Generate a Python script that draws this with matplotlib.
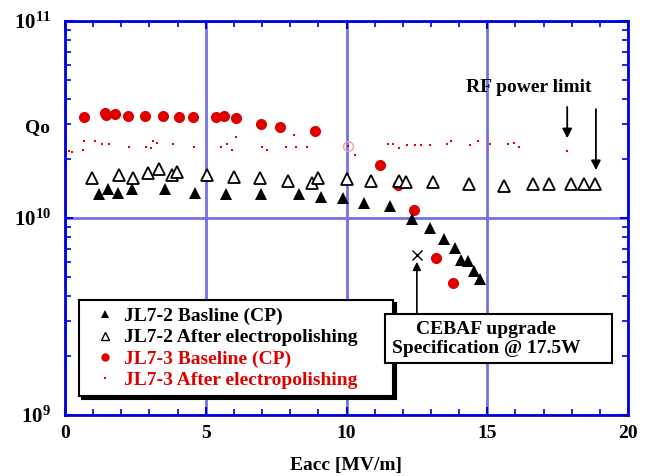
import matplotlib
matplotlib.use("Agg")
import matplotlib.pyplot as plt
from matplotlib.lines import Line2D
from matplotlib.patches import Rectangle
from matplotlib.ticker import FixedLocator, LogLocator, NullFormatter

plt.rcParams["font.family"] = ["Liberation Serif", "DejaVu Serif"]
plt.rcParams["font.weight"] = "bold"
plt.rcParams["mathtext.fontset"] = "custom"
plt.rcParams["mathtext.rm"] = "Liberation Serif:bold"
plt.rcParams["mathtext.bf"] = "Liberation Serif:bold"
plt.rcParams["mathtext.it"] = "Liberation Serif:bold"

# JL7-2 baseline (chemical polishing)
cp2_E = [1.21, 1.51, 1.90, 2.39, 3.56, 4.63, 5.71, 6.98, 8.30, 9.11, 9.89, 10.61,
         11.55, 12.32, 12.95, 13.46, 13.87, 14.07, 14.32, 14.52, 14.75]
cp2_Q = [1.32e10, 1.41e10, 1.34e10, 1.41e10, 1.41e10, 1.34e10, 1.32e10, 1.32e10,
         1.32e10, 1.28e10, 1.26e10, 1.19e10, 1.15e10, 9.9e9, 8.9e9, 7.8e9, 7.05e9,
         6.15e9, 6.08e9, 5.41e9, 4.91e9]

# JL7-2 after electropolishing
ep2_E = [0.95, 1.93, 2.43, 2.96, 3.35, 3.80, 3.99, 5.03, 6.00, 6.93, 7.91, 8.79,
         9.00, 10.02, 10.86, 11.88, 12.10, 13.07, 14.34, 15.60, 16.64, 17.20,
         17.96, 18.43, 18.82]
ep2_Q = [1.60e10, 1.65e10, 1.60e10, 1.70e10, 1.77e10, 1.65e10, 1.71e10, 1.65e10,
         1.62e10, 1.60e10, 1.55e10, 1.50e10, 1.60e10, 1.57e10, 1.55e10, 1.54e10,
         1.52e10, 1.52e10, 1.49e10, 1.46e10, 1.49e10, 1.49e10, 1.49e10, 1.49e10,
         1.49e10]

# JL7-3 baseline (chemical polishing)
cp3_E = [0.68, 1.42, 1.46, 1.78, 2.25, 2.85, 3.49, 4.06, 4.56, 5.38, 5.64, 6.07,
         6.95, 7.63, 8.87, 11.18, 11.82, 12.40, 13.19, 13.77]
cp3_Q = [3.26e10, 3.43e10, 3.32e10, 3.37e10, 3.30e10, 3.30e10, 3.30e10, 3.24e10,
         3.24e10, 3.24e10, 3.30e10, 3.20e10, 2.99e10, 2.90e10, 2.77e10, 1.85e10,
         1.47e10, 1.10e10, 6.24e9, 4.68e9]

# JL7-3 after electropolishing
ep3_E = [0.15, 0.24, 0.63, 0.68, 1.07, 1.33, 1.57, 2.29, 2.88, 3.04, 3.12, 3.28,
         3.82, 4.60, 5.55, 5.74, 5.92, 6.07, 6.99, 7.16, 7.84, 8.14, 8.22, 8.58,
         10.05, 10.29, 11.47, 11.65, 11.88, 12.14, 12.45, 12.63, 12.97, 13.56,
         13.72, 14.39, 14.66, 15.10, 15.73, 15.96, 16.12, 17.83]
ep3_Q = [2.18e10, 2.16e10, 2.22e10, 2.45e10, 2.45e10, 2.37e10, 2.37e10, 2.29e10,
         2.29e10, 2.26e10, 2.45e10, 2.41e10, 2.37e10, 2.29e10, 2.29e10, 2.37e10,
         2.22e10, 2.57e10, 2.29e10, 2.22e10, 2.29e10, 2.65e10, 2.29e10, 2.29e10,
         2.32e10, 2.08e10, 2.37e10, 2.37e10, 2.26e10, 2.34e10, 2.34e10, 2.34e10,
         2.34e10, 2.37e10, 2.45e10, 2.34e10, 2.45e10, 2.37e10, 2.37e10, 2.41e10,
         2.29e10, 2.20e10]

# Highlighted reading on the JL7-3 electropolished curve
ep3_mark_E = [10.05]
ep3_mark_Q = [2.32e10]

# CEBAF upgrade specification point
spec_E = [12.5]
spec_Q = [6.5e9]

# RF power limit arrows: x position, arrow start, arrow tip
rf_E = [17.84, 18.86]
rf_start_Q = [3.66e10, 3.57e10]
rf_tip_Q = [2.54e10, 1.75e10]

x_ticks = [0, 5, 10, 15, 20]
y_ticks = [1e9, 1e10, 1e11]

RED = "#e00000"
BLUE = "#0000dd"
GRID = "#7272e6"

fig = plt.figure(figsize=(6.49, 4.76), dpi=100)
ax = fig.add_axes([65 / 649, 61 / 476, 563 / 649, 394 / 476])
ax.set_yscale("log")
ax.set_xlim(0, 20)
ax.set_ylim(1e9, 1e11)

ax.xaxis.set_major_locator(FixedLocator(x_ticks))
ax.xaxis.set_minor_locator(FixedLocator(range(0, 21)))
ax.yaxis.set_major_locator(FixedLocator(y_ticks))
ax.yaxis.set_minor_locator(LogLocator(base=10, subs=range(2, 10)))
ax.yaxis.set_minor_formatter(NullFormatter())
ax.set_xticklabels([str(t) for t in x_ticks])
ax.set_yticklabels([r"$10^{9}$", r"$10^{10}$", r"$10^{11}$"])

ax.grid(True, which="major", color=GRID, lw=2, zorder=0)
ax.set_axisbelow(True)
for s in ax.spines.values():
    s.set_color(BLUE)
    s.set_linewidth(2)
ax.tick_params(which="both", direction="in", color=BLUE, top=True, right=True,
               labelsize=14)
ax.tick_params(which="major", length=6, width=1.5)
ax.tick_params(which="minor", length=4, width=1.2)
ax.tick_params(axis="x", pad=7)
ax.tick_params(axis="y", pad=10, labelsize=15)

ax.plot(ep3_E, ep3_Q, ls="none", marker="s", ms=1.8, color=RED, mew=0, zorder=3)
ax.plot(ep3_mark_E, ep3_mark_Q, ls="none", marker="o", ms=7, mfc="none",
        mec="#f2a0a0", mew=1, zorder=3)
ax.plot(cp3_E, cp3_Q, ls="none", marker="o", ms=8, color=RED, mew=0, zorder=4)
ax.plot(ep2_E, ep2_Q, ls="none", marker="^", ms=8, mfc="white", mec="black",
        mew=1.3, zorder=4)
ax.plot(cp2_E, cp2_Q, ls="none", marker="^", ms=9, color="black", mew=0, zorder=5)
ax.plot(spec_E, spec_Q, ls="none", marker="x", ms=7, color="black", mew=1, zorder=5)

ax.set_xlabel("Eacc [MV/m]", fontsize=14, fontweight="bold", labelpad=11)
fig.text(38 / 649, 1 - 128 / 476, "Qo", fontsize=14, fontweight="bold",
         ha="center", va="center")

# RF power limit
ax.text(16.48, 4.57e10, "RF power limit", fontsize=14, fontweight="bold",
        ha="center", va="center")
for e, q0, q1 in zip(rf_E, rf_start_Q, rf_tip_Q):
    ax.annotate("", xy=(e, q1), xytext=(e, q0),
                arrowprops=dict(arrowstyle="-|>", color="black", lw=1.3,
                                mutation_scale=14, shrinkA=0, shrinkB=0))

# Legend
handles = [
    Line2D([], [], ls="none", marker="^", ms=6, color="black", mew=0),
    Line2D([], [], ls="none", marker="^", ms=5.5, mfc="white", mec="black", mew=1),
    Line2D([], [], ls="none", marker="o", ms=6, color=RED, mew=0),
    Line2D([], [], ls="none", marker="s", ms=1.5, color=RED, mew=0),
]
labels = ["JL7-2 Basline (CP)", "JL7-2 After electropolishing",
          "JL7-3 Baseline (CP)", "JL7-3 After electropolishing"]
leg = ax.legend(handles, labels, loc="upper left", mode="expand",
                bbox_to_anchor=((79 - 65) / 563, (415 - 300) / 394, 314 / 563, 0),
                fancybox=False, frameon=True, framealpha=1, edgecolor="black",
                prop=dict(family="Liberation Serif", weight="bold", size=14),
                labelcolor=["black", "black", RED, RED],
                handlelength=1.95, handletextpad=0.0, labelspacing=0.19,
                borderpad=0.38, borderaxespad=0,
                shadow=dict(facecolor="black", edgecolor="black", alpha=1))
leg.get_frame().set_linewidth(1.5)
leg.set_zorder(6)

# CEBAF specification box with arrow to the spec point
box = Rectangle(((385 - 65) / 563, (415 - 363) / 394), 227 / 563, 49 / 394,
                transform=ax.transAxes, facecolor="white", edgecolor="black",
                lw=1.5, zorder=7)
ax.add_patch(box)
ax.text((486 - 65) / 563, (415 - 339) / 394, "CEBAF upgrade\nSpecification @ 17.5W",
        transform=ax.transAxes, fontsize=14, fontweight="bold", ha="center",
        va="center", multialignment="center", linespacing=1.22, zorder=8)
ax.annotate("", xy=(spec_E[0], spec_Q[0]), xytext=(spec_E[0], 3.26e9),
            arrowprops=dict(arrowstyle="-|>", color="black", lw=1.2,
                            mutation_scale=12, shrinkA=0, shrinkB=5), zorder=6)

fig.savefig("out.png", dpi=100)
